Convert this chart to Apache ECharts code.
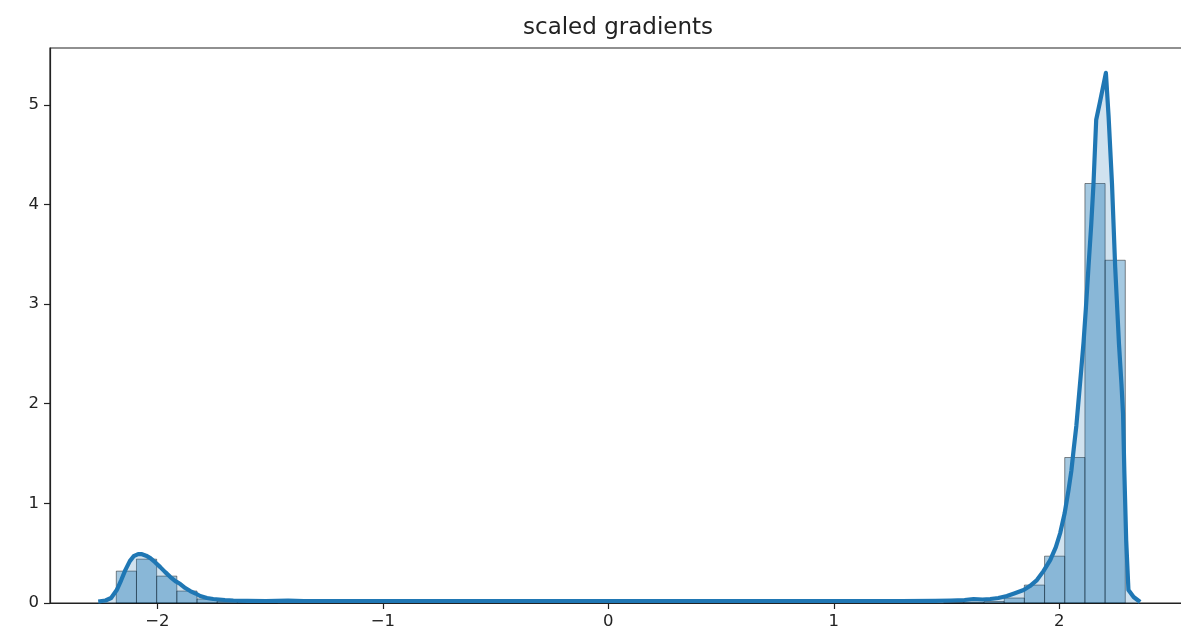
<!DOCTYPE html>
<html>
<head>
<meta charset="utf-8">
<script src="https://cdn.jsdelivr.net/npm/echarts@6/dist/echarts.min.js"></script>
<style>
  html, body { margin: 0; padding: 0; background: #ffffff; }
  #chart { width: 1181px; height: 638px; }
</style>
</head>
<body>
<div id="chart"></div>
<script>
// Tick positions shown on each axis
const xTicks = [-2, -1, 0, 1, 2];
const yTicks = [0, 1, 2, 3, 4, 5];

// Histogram: 50 equal-width bins (density), left edge of the first bin and bin width
const binStart = -2.182;
const binWidth = 0.0895;
const binHeights = [
  0.32, 0.44, 0.27, 0.12, 0.04, 0.015, 0.01, 0.005, 0, 0,
  0, 0, 0, 0, 0, 0, 0, 0, 0, 0,
  0, 0, 0, 0, 0, 0, 0, 0, 0, 0,
  0, 0, 0, 0, 0, 0, 0, 0, 0, 0,
  0, 0.004, 0.008, 0.015, 0.05, 0.18, 0.47, 1.46, 4.21, 3.44
];

// Kernel density estimate curve
const kdeX = [
  -2.262, -2.23, -2.205, -2.18, -2.16, -2.142, -2.122, -2.105, -2.085, -2.068,
  -2.05, -2.031, -2.01, -1.987, -1.965, -1.942, -1.92, -1.898, -1.876, -1.854,
  -1.83, -1.81, -1.78, -1.752, -1.70, -1.663, -1.60, -1.52, -1.42, -1.35,
  -1.2, -1.0, -0.5, 0.0, 0.5, 1.0, 1.3, 1.45, 1.52, 1.58,
  1.62, 1.66, 1.694, 1.73, 1.768, 1.80, 1.842, 1.87, 1.901, 1.93,
  1.96, 1.985, 2.004, 2.024, 2.041, 2.054, 2.064, 2.076, 2.086, 2.098,
  2.108, 2.118, 2.13, 2.142, 2.152, 2.164, 2.18, 2.207, 2.219, 2.234,
  2.248, 2.265, 2.276, 2.283, 2.289, 2.297, 2.307, 2.33, 2.359
];
const kdeY = [
  0.015, 0.025, 0.05, 0.13, 0.23, 0.33, 0.42, 0.47, 0.49, 0.49,
  0.475, 0.45, 0.41, 0.36, 0.31, 0.26, 0.22, 0.19, 0.15, 0.12,
  0.095, 0.07, 0.05, 0.04, 0.03, 0.025, 0.022, 0.02, 0.024, 0.02,
  0.02, 0.02, 0.02, 0.02, 0.02, 0.02, 0.02, 0.022, 0.025, 0.03,
  0.04, 0.035, 0.04, 0.05, 0.07, 0.095, 0.13, 0.17, 0.23, 0.32,
  0.43, 0.56, 0.70, 0.9, 1.13, 1.33, 1.54, 1.78, 2.04, 2.35,
  2.62, 2.95, 3.38, 3.8, 4.21, 4.85, 5.02, 5.32, 4.88, 4.21,
  3.38, 2.6, 2.2, 1.9, 1.3, 0.63, 0.13, 0.06, 0.01
];

const textColor = '#222222';
const fontFamily = '"DejaVu Sans", sans-serif';

const histData = binHeights
  .map((h, i) => [binStart + i * binWidth, binStart + (i + 1) * binWidth, h])
  .filter(d => d[2] > 0);
const kdeData = kdeX.map((x, i) => [x, kdeY[i]]);

const chart = echarts.init(document.getElementById('chart'), null, { renderer: 'canvas' });

chart.setOption({
  animation: false,
  backgroundColor: '#ffffff',
  title: {
    text: 'scaled gradients',
    left: 518,
    top: 12,
    textStyle: { fontFamily, fontSize: 23, fontWeight: 'normal', color: textColor }
  },
  grid: {
    left: 50,
    top: 48,
    width: 1140,
    height: 555,
    containLabel: false,
    outerBoundsMode: 'none',
    show: true,
    borderColor: textColor,
    borderWidth: 1.2,
    backgroundColor: 'transparent'
  },
  xAxis: {
    type: 'value',
    min: -2.476,
    max: 2.58,
    splitLine: { show: false },
    axisLine: { show: true, onZero: false, lineStyle: { color: textColor, width: 1.2 } },
    axisTick: { show: true, length: 6, customValues: xTicks, lineStyle: { color: textColor, width: 1.2 } },
    axisLabel: {
      customValues: xTicks,
      margin: 10,
      fontFamily,
      fontSize: 16.5,
      color: textColor,
      formatter: v => (v < 0 ? '\u2212' + Math.abs(v) : String(v))
    }
  },
  yAxis: {
    type: 'value',
    min: 0,
    max: 5.57,
    splitLine: { show: false },
    axisLine: { show: true, onZero: false, lineStyle: { color: textColor, width: 1.2 } },
    axisTick: { show: true, length: 6, customValues: yTicks, lineStyle: { color: textColor, width: 1.2 } },
    axisLabel: {
      customValues: yTicks,
      margin: 11,
      fontFamily,
      fontSize: 16.5,
      color: textColor
    }
  },
  series: [
    {
      name: 'histogram',
      type: 'custom',
      z: 1,
      data: histData,
      encode: { x: [0, 1], y: 2 },
      renderItem: function (params, api) {
        const topLeft = api.coord([api.value(0), api.value(2)]);
        const bottomRight = api.coord([api.value(1), 0]);
        return {
          type: 'rect',
          shape: {
            x: topLeft[0],
            y: topLeft[1],
            width: bottomRight[0] - topLeft[0],
            height: bottomRight[1] - topLeft[1]
          },
          style: {
            fill: 'rgba(31,119,180,0.4)',
            stroke: 'rgba(0,0,0,0.45)',
            lineWidth: 1
          }
        };
      }
    },
    {
      name: 'kde',
      type: 'line',
      z: 2,
      data: kdeData,
      showSymbol: false,
      smooth: false,
      clip: false,
      lineStyle: { color: '#1f77b4', width: 4.2, join: 'round' },
      areaStyle: { color: 'rgba(31,119,180,0.3)', origin: 'start' }
    }
  ]
});
</script>
</body>
</html>
